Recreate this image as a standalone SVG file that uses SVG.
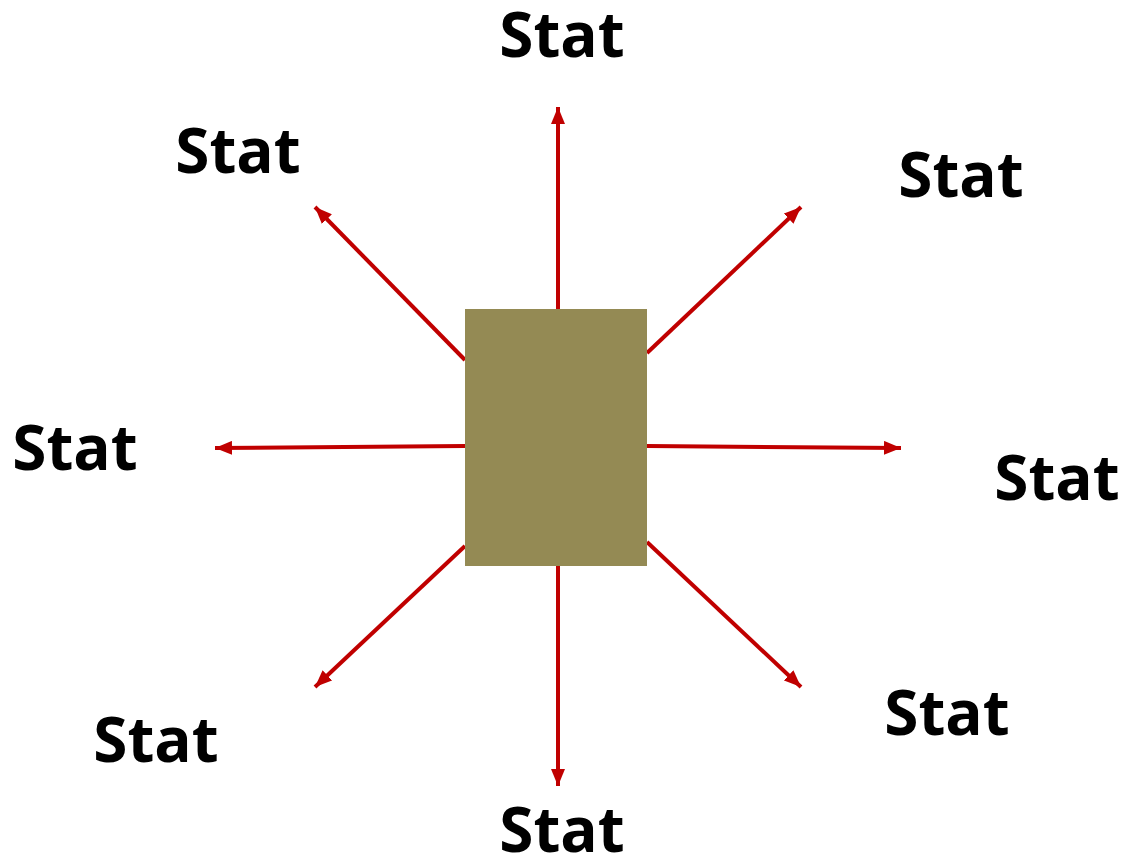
<svg xmlns="http://www.w3.org/2000/svg" width="1126" height="860" viewBox="0 0 1126 860">
<style>
.lbl{font-family:"Open Sans","Liberation Sans",sans-serif;font-weight:bold;font-size:62px;fill:#000;text-anchor:middle}
.arr{stroke:#C00000;stroke-width:4;fill:none;marker-end:url(#ah)}
</style>
<defs>
<marker id="ah" markerUnits="userSpaceOnUse" markerWidth="18" markerHeight="14" refX="17" refY="7" orient="auto">
<path d="M0,0 L17,7 L0,14 Z" fill="#C00000"/>
</marker>
</defs>
<rect width="1126" height="860" fill="#fff"/>
<g id="connectors">
<line class="arr" x1="558" y1="309" x2="558" y2="107"/>
<line class="arr" x1="465" y1="360" x2="315" y2="207"/>
<line class="arr" x1="647" y1="353" x2="801" y2="207"/>
<line class="arr" x1="465" y1="446" x2="215" y2="448"/>
<line class="arr" x1="647" y1="446" x2="901" y2="448"/>
<line class="arr" x1="465" y1="546" x2="315" y2="687"/>
<line class="arr" x1="647" y1="542" x2="801" y2="687"/>
<line class="arr" x1="558" y1="566" x2="558" y2="786"/>
</g>
<g id="center"><rect x="465" y="309" width="182" height="257" fill="#948A54"/></g>
<g id="stat-top"><text class="lbl" x="562" y="57">Stat</text></g>
<g id="stat-topleft"><text class="lbl" x="238" y="173">Stat</text></g>
<g id="stat-topright"><text class="lbl" x="961" y="197">Stat</text></g>
<g id="stat-left"><text class="lbl" x="75" y="470">Stat</text></g>
<g id="stat-right"><text class="lbl" x="1057" y="500">Stat</text></g>
<g id="stat-bottomleft"><text class="lbl" x="156" y="762">Stat</text></g>
<g id="stat-bottomright"><text class="lbl" x="947" y="735">Stat</text></g>
<g id="stat-bottom"><text class="lbl" x="562" y="852">Stat</text></g>
</svg>
